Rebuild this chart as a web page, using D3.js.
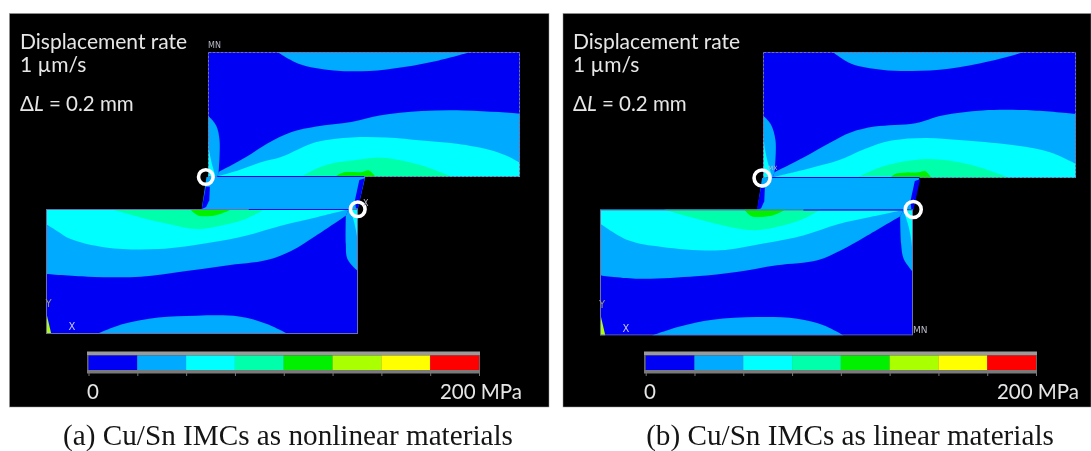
<!DOCTYPE html>
<html><head><meta charset="utf-8">
<script src="https://cdn.jsdelivr.net/npm/d3@7"></script>
<style>html,body{margin:0;padding:0;background:#fff}svg{display:block}</style>
</head><body><svg id="c" width="1091" height="451"></svg>
<script>
// Stress legend
const stressThresholds = [0,25,50,75,100,125,150,175,200];
const stressColors = ["#0000f5","#00aaff","#00ffff","#00ffaa","#00f000","#aaff00","#ffff00","#ff0000"];
// Contours in model coordinates: u 0-100 along a block, v 0-100 across it (0 = joint side)
// Panel (a), upper block
const archAU  = [[22.3,100],[29,90.7],[40.3,85.3],[51.6,84.8],[62.8,88],[74,93.3],[84.2,100]];
const lobeAU  = [[0,49.3],[2.6,41.3],[3.7,29.3],[3.4,4]];
const band1AU = [[3.4,4],[12.2,16],[18.9,26.7],[26.8,36],[34.7,40.5],[45.9,44],[55,49.3],[68.5,52.8],[82,53.3],[93.2,52],[100,50.7]];
const band2AU = [[3.2,0.8],[9.6,5.3],[16.7,11.7],[23.4,16],[34.7,28],[46,31.7],[57.3,31.7],[68.5,29.3],[79.8,26.7],[91,21.3],[96.6,16],[100,11.2]];
const band3AU = [[29.7,0],[34.7,6.7],[40.3,11.2],[48.2,13.9],[53.8,15.5],[60.6,13.9],[68.5,9.3],[78.6,0]];
const band4AU = [[40.5,0],[43.2,3.5],[49.4,4],[51.6,5.3],[53.8,0]];
// Panel (a), lower block
const archAL  = [[22.5,100],[29.2,92],[38.2,86],[51.7,85.3],[64,86.7],[75.3,92],[83.7,100]];
const lobeAL  = [[0,49.9],[3.4,40],[3.9,28],[3.9,5.3]];
const band1AL = [[3.9,5.3],[13.5,21.3],[21.3,33.3],[29.2,40.8],[42.7,45.3],[56.2,49.9],[69.7,54.1],[86.5,54.1],[100,52]];
const band2AL = [[3.9,0.8],[13.5,6.7],[24.7,13.3],[36,21.3],[47.2,26.7],[64,32],[80.9,30.7],[92.1,24],[96.6,17.3],[100,12]];
const band3AL = [[29.8,0],[36,8],[42.7,12.5],[51.7,16],[60.7,12],[69.7,6.7],[79.2,0]];
const band4AL = [[40.4,0],[44.9,4.5],[51.1,5.3],[53.9,0]];
const stripA  = [[0,30],[0.4,21],[1.2,11],[2.4,1]];
// Panel (b), upper block
const archBU  = [[22.3,100],[28.2,90.7],[37.9,85.9],[47.6,84.9],[59.4,86.7],[72.3,92.6],[83.6,100]];
const lobeBU  = [[0,49.6],[2.4,43],[4,29.7],[3.7,4.5]];
const band1BU = [[3.7,4.5],[13.1,16.4],[21.7,28.4],[28.2,36.3],[35.7,40.8],[48.7,43.5],[57.3,49.6],[70.2,53.6],[86.3,53.6],[100,50.9]];
const band2BU = [[3.7,1],[10.5,5],[15.3,8],[23.9,13.8],[32.5,23.1],[41.1,29.7],[51.9,31.8],[64.8,29.7],[80.9,25.7],[91.7,20.4],[100,11.1]];
const band3BU = [[29.8,0],[34.7,5.8],[41.1,11.1],[51.9,15.1],[59.4,13.8],[69.1,8.5],[78.8,0]];
const band4BU = [[40.6,0],[42.2,3.2],[49.7,4.5],[51.9,5.3],[53.8,0]];
// Panel (b), lower block
const archBL  = [[22.1,100],[28.4,92],[37,86.7],[50,85.4],[64,87.5],[74.8,93],[83.4,100]];
const lobeBL  = [[0,49.6],[3,39],[3.8,27],[4.1,5.3]];
const band1BL = [[4.1,5.3],[15.4,21.8],[23,32.4],[30.5,40.3],[43.5,44.3],[56.4,49.6],[69.4,53],[87.7,54.9],[100,52.3]];
const band2BL = [[4.1,1],[13.3,5.8],[24,11.7],[34.8,20.4],[47.8,27],[61.8,32.4],[80.2,29.7],[91,24.4],[100,11.1]];
const band3BL = [[29.4,0],[34.8,7.2],[41.3,12.5],[50,16.4],[58.6,13.8],[69.4,7.2],[79.6,0]];
const band4BL = [[40.8,0],[44.6,4.5],[51.6,5.3],[53.9,0]];
const stripB  = [[0,38],[0.7,22],[1.7,11],[3,1]];
// Solder joint between the blocks (v below 0)
const jointA = [[-0.5,0],[50.4,0],[48,-25.6],[-2,-25.6]];
const jointB = [[-0.3,0],[49.9,0],[48,-25],[-1.8,-25]];
const jointEdgeL = [[-0.7,-7.8],[0.6,-7.8],[0.4,-18.5],[-0.6,-24],[-2,-25.6]];
const jointEdgeR = [[50.2,-1],[48.5,-2.4],[47.1,-18.5],[47.4,-25],[48.1,-25]];
const cornerWedge = [[100,100],[100,82],[98.3,100]];
const captions = ["(a) Cu/Sn IMCs as nonlinear materials","(b) Cu/Sn IMCs as linear materials"];

const panels = [
 {rect:[9.5,13.5,539.5,393.5], up:{x:[208,520],y:[177,52]}, low:{x:[358,46],y:[209,334]},
  u:[archAU,lobeAU,band1AU,band2AU,band3AU,band4AU], l:[archAL,lobeAL,band1AL,band2AL,band3AL,band4AL],
  strip:stripA, joint:jointA,
  rings:[[-0.7,0],[48,-25.8]], bar:{x:[88.5,479],fx:[87,480]},
  tx:20, zeroX:87, maxEnd:522, cap:[288,captions[0]],
  tags:[["MN",208,48,8,"#b9b9c8"],["X",363,206,8,"#b9b9c8"],["Y",45.5,306.5,10,"#9a9a70"],["X",68.5,330,10,"#c8c8ff"]]},
 {rect:[563,13.5,528,393.5], up:{x:[763,1076],y:[178,52]}, low:{x:[913,600],y:[209.5,335.5]},
  u:[archBU,lobeBU,band1BU,band2BU,band3BU,band4BU], l:[archBL,lobeBL,band1BL,band2BL,band3BL,band4BL],
  strip:stripB, joint:jointB,
  rings:[[-0.3,0],[48,-25]], bar:{x:[645.7,1036],fx:[644,1037]},
  tx:573, zeroX:644, maxEnd:1079, cap:[850,captions[1]],
  tags:[["MX",768,170,6,"#b9b9c8"],["MN",913,332.5,9,"#b9b9c8"],["Y",599,308,10,"#9a9a70"],["X",622.5,332,10,"#c8c8ff"]]}
];
const svg = d3.select("#c");
const defs = svg.append("defs");
const addBlur=(id,s)=>defs.append("filter").attr("id",id).attr("x",-0.02).attr("y",-0.1).attr("width",1.04).attr("height",1.2)
  .append("feGaussianBlur").attr("stdDeviation",s);
addBlur("soft",0.5); addBlur("softText",0.35);
const smooth = d3.line().curve(d3.curveCatmullRom.alpha(0.5));
const poly = (arr)=>"M"+arr.map(p=>p.join(",")).join("L")+"Z";
const sans = "Lato, 'Open Sans', sans-serif";

panels.forEach((P,i)=>{
  svg.append("rect").attr("x",P.rect[0]).attr("y",P.rect[1]).attr("width",P.rect[2]).attr("height",P.rect[3])
     .attr("fill","#000").attr("stroke","#999").attr("stroke-width",0.5);
  const g = svg.append("g").attr("filter","url(#soft)");
  const mk = (r)=>({x:d3.scaleLinear().domain([0,100]).range(r.x), y:d3.scaleLinear().domain([0,100]).range(r.y)});
  const U = mk(P.up), L = mk(P.low);
  const toPx = (S,arr)=>arr.map(([u,v])=>[S.x(u),S.y(v)]);

  g.append("path").attr("d",poly(toPx(U,P.joint))).attr("fill",stressColors[1]);
  g.append("path").attr("d",poly(toPx(U,jointEdgeL))).attr("fill",stressColors[0]);
  g.append("path").attr("d",poly(toPx(U,jointEdgeR))).attr("fill",stressColors[0]);

  [[U,"u"],[L,"l"]].forEach(([S,k])=>{
    const id = `clip${i}${k}`;
    const bx=Math.min(...S.x.range()), by=Math.min(...S.y.range());
    const bw=Math.abs(S.x(100)-S.x(0)), bh=Math.abs(S.y(100)-S.y(0));
    defs.append("clipPath").attr("id",id).append("rect").attr("x",bx).attr("y",by).attr("width",bw).attr("height",bh);
    const b = g.append("g").attr("clip-path",`url(#${id})`);
    b.append("rect").attr("x",bx).attr("y",by).attr("width",bw).attr("height",bh).attr("fill",stressColors[0]);
    const band = (contour,close,col)=>{
      const d = smooth(toPx(S,contour))+toPx(S,close).map(p=>"L"+p.join(",")).join("")+"Z";
      b.append("path").attr("d",d).attr("fill",col);
    };
    const [arch,lobe,b1,b2,b3,b4] = P[k];
    band(arch,[],stressColors[1]);
    band(lobe,[[3,0],[0,0]],stressColors[1]);
    band(b1,[[100,0],[3,0]],stressColors[1]);
    band(b2,[[100,0],[3,0]],stressColors[2]);
    band(P.strip,[[0,0]],stressColors[2]);
    band(b3,[],stressColors[3]);
    band(b4,[],stressColors[4]);
    if(k==="l"){ b.append("path").attr("d",poly(toPx(S,cornerWedge))).attr("fill",stressColors[5]); }
    b.append("rect").attr("x",bx+.5).attr("y",by+.5).attr("width",bw-1).attr("height",bh-1)
      .attr("fill","none").attr("stroke","#6f6fa8").attr("stroke-width",1)
      .attr("stroke-dasharray",k==="u"?"3 1":null);
    b.append("line").attr("x1",S.x(3)).attr("x2",S.x(k==="u"?50:35)).attr("y1",S.y(0)).attr("y2",S.y(0))
      .attr("stroke",stressColors[0]).attr("stroke-width",2);
  });

  g.selectAll("circle.r").data(P.rings).join("circle").attr("class","r")
    .attr("cx",d=>U.x(d[0])).attr("cy",d=>U.y(d[1])).attr("r",i?8:7.3)
    .attr("fill","none").attr("stroke","#fff").attr("stroke-width",3.6);

  const cb = d3.scaleLinear().domain([0,200]).range(P.bar.x);
  const fw = P.bar.fx[1]-P.bar.fx[0];
  g.append("rect").attr("x",P.bar.fx[0]).attr("y",351.5).attr("width",fw).attr("height",4).attr("fill","#9a9a9a");
  g.append("rect").attr("x",P.bar.fx[0]).attr("y",355).attr("width",fw).attr("height",15).attr("fill","#666");
  g.append("rect").attr("x",P.bar.fx[0]).attr("y",370).attr("width",fw).attr("height",3.5).attr("fill","#7a7a7a");
  g.selectAll("rect.s").data(stressColors).join("rect").attr("class","s")
    .attr("x",(d,j)=>cb(stressThresholds[j])).attr("y",355.5)
    .attr("width",(d,j)=>cb(stressThresholds[j+1])-cb(stressThresholds[j])).attr("height",14.5).attr("fill",d=>d);
  const ax = d3.axisBottom(cb).tickValues(stressThresholds).tickFormat("").tickSize(3).tickSizeOuter(0);
  const axg = g.append("g").attr("transform","translate(0,373)").call(ax);
  axg.select(".domain").remove();
  axg.selectAll("line").attr("stroke","#777");

  const T = (s,x,y,o={})=>svg.append("text").attr("x",x).attr("y",y).attr("fill",o.f||"#e6e6e6")
    .attr("filter",o.plain?null:"url(#softText)")
    .attr("font-family",o.ff||sans).attr("font-size",o.s||20.5).attr("text-anchor",o.a||"start").text(s);
  T("Displacement rate",P.tx,49,{s:21});
  T("1 µm/s",P.tx,72,{s:21});
  const dl = T("Δ",P.tx,111);
  dl.append("tspan").attr("font-style","italic").text("L");
  dl.append("tspan").text(" = 0.2 mm");
  T("0",P.zeroX,399);
  T("200 MPa",P.maxEnd,399,{a:"end"});
  P.tags.forEach(t=>T(t[0],t[1],t[2],{s:t[3],f:t[4],ff:"'DejaVu Sans',sans-serif",plain:true}));
  T(P.cap[1],P.cap[0],445,{a:"middle",s:29.2,f:"#151515",ff:"'Liberation Serif',serif",plain:true});
});
</script></body></html>
